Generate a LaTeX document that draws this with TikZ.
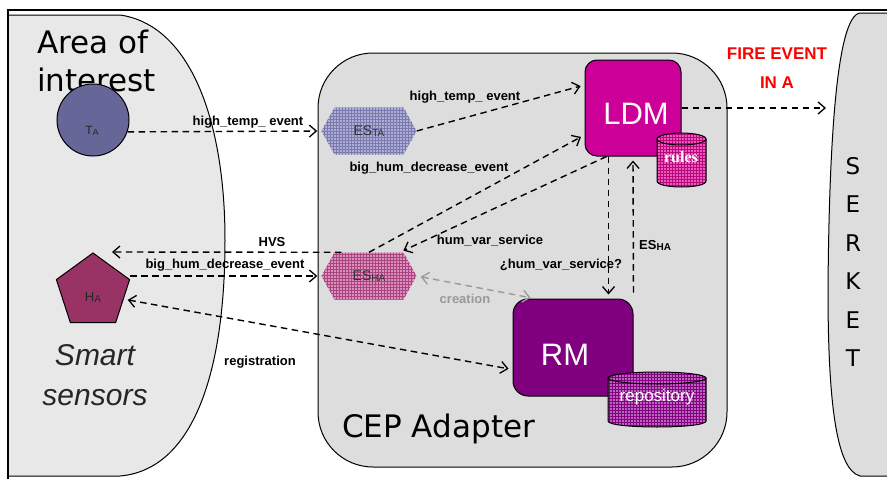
\documentclass[tikz,border=0pt]{standalone}
\usepackage{fontspec}
\setmainfont{Liberation Sans}
\newfontfamily\dvsans{DejaVu Sans}
\newfontfamily\libserif{Liberation Serif}
\usetikzlibrary{arrows.meta,shapes.geometric,patterns}

\definecolor{areagray}{HTML}{E8E8E8}
\definecolor{cepgray}{HTML}{DDDDDD}
\definecolor{tablue}{HTML}{666699}
\definecolor{hamaroon}{HTML}{993366}
\definecolor{ldmpink}{HTML}{CC0099}
\definecolor{rmpurple}{HTML}{800080}
\definecolor{tafill}{HTML}{AEAED4}
\definecolor{tagrid}{HTML}{7A7AAE}
\definecolor{hafill}{HTML}{D890BC}
\definecolor{hagrid}{HTML}{AC4480}
\definecolor{rulesfill}{HTML}{EC5CB8}
\definecolor{rulesgrid}{HTML}{B8087E}
\definecolor{repofill}{HTML}{B868B8}
\definecolor{repogrid}{HTML}{860086}
\definecolor{creagray}{HTML}{999999}

\newcommand\sizept[1]{\fontsize{#1}{#1}\selectfont}

\begin{document}
\begin{tikzpicture}[x=1pt,y=-1pt,
  conn/.style={line width=1.4pt, dash pattern=on 6.5pt off 4.5pt,
    -{Straight Barb[length=7pt,width=12pt,line width=1.3pt]}, shorten >=4pt},
  biconn/.style={line width=1.4pt, dash pattern=on 6.5pt off 4.5pt,
    {Straight Barb[length=7pt,width=12pt,line width=1.3pt]}-{Straight Barb[length=7pt,width=12pt,line width=1.3pt]},
    shorten >=4pt, shorten <=4pt},
  lbl/.style={font=\bfseries\sizept{13}, inner sep=0pt},
  hexbox/.style={minimum width=95pt, minimum height=47pt, inner sep=0pt,
    font=\sizept{14}, text=black!80},
  tahex/.style={preaction={fill=tafill}, pattern=grid, pattern color=tagrid},
  hahex/.style={preaction={fill=hafill}, pattern=grid, pattern color=hagrid},
  rulesdrum/.style={preaction={fill=rulesfill}, pattern=grid, pattern color=rulesgrid},
  repodrum/.style={preaction={fill=repofill}, pattern=grid, pattern color=repogrid},
  bigwhite/.style={text=white, font=\sizept{31}},
]
\useasboundingbox (0,0) rectangle (887,479);
\fill[white] (0,0) rectangle (887,479);

% area of interest (left region)
\draw[fill=areagray, line width=1pt]
  (8,15) -- (120,15) .. controls (190,25) and (225,120) .. (225,240)
  .. controls (225,380) and (190,470) .. (120,476) -- (8,476) -- cycle;

% SERKET region (right)
\draw[fill=cepgray, line width=1pt]
  (895,13) -- (860,13) .. controls (836,16) and (829,150) .. (828,290)
  .. controls (828,400) and (836,470) .. (860,476) -- (895,476);

% outer frame
\draw[line width=1.2pt] (8,479) -- (8,10) -- (890,10);

% CEP adapter container
\node[draw, line width=1pt, fill=cepgray, rounded corners=55pt,
  minimum width=409pt, minimum height=414pt, inner sep=0pt] (cep) at (522.5,260) {};

% region titles
\node[font=\dvsans\sizept{31}, anchor=base west, inner sep=0pt] (area1) at (37,53) {Area of};
\node[font=\dvsans\sizept{31}, anchor=base west, inner sep=0pt] (area2) at (37,91) {interest};
\node[font=\itshape\sizept{30}, text=black!85, anchor=base, inner sep=0pt] (smart1) at (95,365) {Smart};
\node[font=\itshape\sizept{30}, text=black!85, anchor=base, inner sep=0pt] (smart2) at (95,405) {sensors};
\node[font=\dvsans\sizept{31}, anchor=base west, inner sep=0pt] (ceplbl) at (342,437) {CEP Adapter};
\node[font=\dvsans\fontsize{23}{38.4}\selectfont, align=center, inner sep=0pt] (serket) at (853,262) {S\\E\\R\\K\\E\\T};
\node[text=red, font=\bfseries\fontsize{17}{29}\selectfont, align=center, inner sep=0pt] (fire) at (777,68) {FIRE EVENT\\IN A};

% sensors
\node[circle, draw, line width=1pt, fill=tablue, minimum size=72pt, inner sep=0pt] (TA) at (93,120) {};
\node[font=\sizept{12}, text=black!85, inner sep=0pt] (TAlbl) at (92,131) {T\raisebox{-1pt}{\sizept{9}A}};
\node[regular polygon, regular polygon sides=5, draw, line width=1pt, fill=hamaroon,
  minimum size=77pt, inner sep=0pt] (HA) at (93,291.5) {};
\node[font=\sizept{13}, text=black!85, inner sep=0pt] (HAlbl) at (93,298) {H\raisebox{-1pt}{\sizept{10}A}};

% event streams (hexagons)
\path[tahex] (321.5,131) -- (334.5,107.5) -- (403.5,107.5) -- (416.5,131)
  -- (403.5,154.5) -- (334.5,154.5) -- cycle;
\node[hexbox] (ESTA) at (369,131) {\raisebox{-3pt}{ES\raisebox{-1.5pt}{\sizept{10}TA}}};
\path[hahex] (321.5,276) -- (334.5,252.5) -- (403.5,252.5) -- (416.5,276)
  -- (403.5,299.5) -- (334.5,299.5) -- cycle;
\node[hexbox] (ESHA) at (369,276) {\raisebox{-3pt}{ES\raisebox{-1.5pt}{\sizept{10}HA}}};

% LDM with its rules store
\node[draw, line width=1pt, fill=ldmpink, rounded corners=12pt, minimum width=96pt,
  minimum height=96pt, inner sep=0pt,
  label={[bigwhite, xshift=3pt, yshift=-6pt]center:LDM}] (LDM) at (633,108) {};
\path[rulesdrum, draw, line width=1pt] (657,139) -- (657,181) .. controls (657,189) and (706,189) .. (706,181) -- (706,139) -- cycle;
\path[rulesdrum, draw, line width=1pt] (681.5,139) ellipse [x radius=24.5, y radius=6];
\node[text=white, font=\libserif\bfseries\sizept{16}, inner sep=0pt] (rules) at (681,157) {rules};

% RM with its repository
\node[draw, line width=1pt, fill=rmpurple, rounded corners=15pt, minimum width=120pt,
  minimum height=97pt, inner sep=0pt,
  label={[bigwhite, xshift=-8pt, yshift=-7pt]center:RM}] (RM) at (573,347.5) {};
\path[repodrum, draw, line width=1pt] (608,378) -- (608,421) .. controls (608,429) and (706,429) .. (706,421) -- (706,378) -- cycle;
\path[repodrum, draw, line width=1pt] (657,378) ellipse [x radius=49, y radius=6];
\node[text=white, font=\sizept{17}, inner sep=0pt] (repo) at (657,397) {repository};

% free ends
\coordinate (hvsend) at (112,252);
\coordinate (serketin) at (826,108);

% connectors
\draw[conn] (TA.-19) -- (ESTA.west);
\draw[conn] (ESTA.east) -- ([yshift=23pt]LDM.west);
\draw[conn] (ESHA.north) -- ([yshift=-27pt]LDM.west);
\draw[conn] ([xshift=22pt]LDM.south west) -- ([xshift=-17pt]ESHA.north east);
\draw[conn, shorten >=0pt] ([xshift=20pt]ESHA.north west) -- (hvsend);
\draw[conn] (HA.corner 5 |- ESHA.west) -- (ESHA.west);
\draw[biconn] (HA.-14) -- ([yshift=-22pt]RM.west);
\draw[biconn, creagray] (ESHA.east) -- ([xshift=22pt]RM.north west);
\draw[conn] ([xshift=24pt]LDM.south west) -- ([xshift=24pt]LDM.south west |- RM.north);
\draw[conn, shorten <=6pt] (RM.north east) -- (LDM.south);
\draw[conn, shorten >=0pt] (LDM.east) -- (serketin);

% connector labels
\node[lbl] (l1) at (248,122) {high\_temp\_ event};
\node[lbl] (l2) at (465,97) {high\_temp\_ event};
\node[lbl] (l3) at (429,168) {big\_hum\_decrease\_event};
\node[lbl] (l4) at (490,241) {hum\_var\_service};
\node[lbl] (l5) at (272,242) {HVS};
\node[lbl] (l6) at (225,265) {big\_hum\_decrease\_event};
\node[lbl] (l7) at (260,362) {registration};
\node[lbl, text=creagray] (l8) at (465,299) {creation};
\node[lbl] (l9) at (561,265) {¿hum\_var\_service?};
\node[lbl, anchor=west] (l10) at (639,245) {ES\raisebox{-1pt}{\sizept{10}HA}};
\end{tikzpicture}
\end{document}
